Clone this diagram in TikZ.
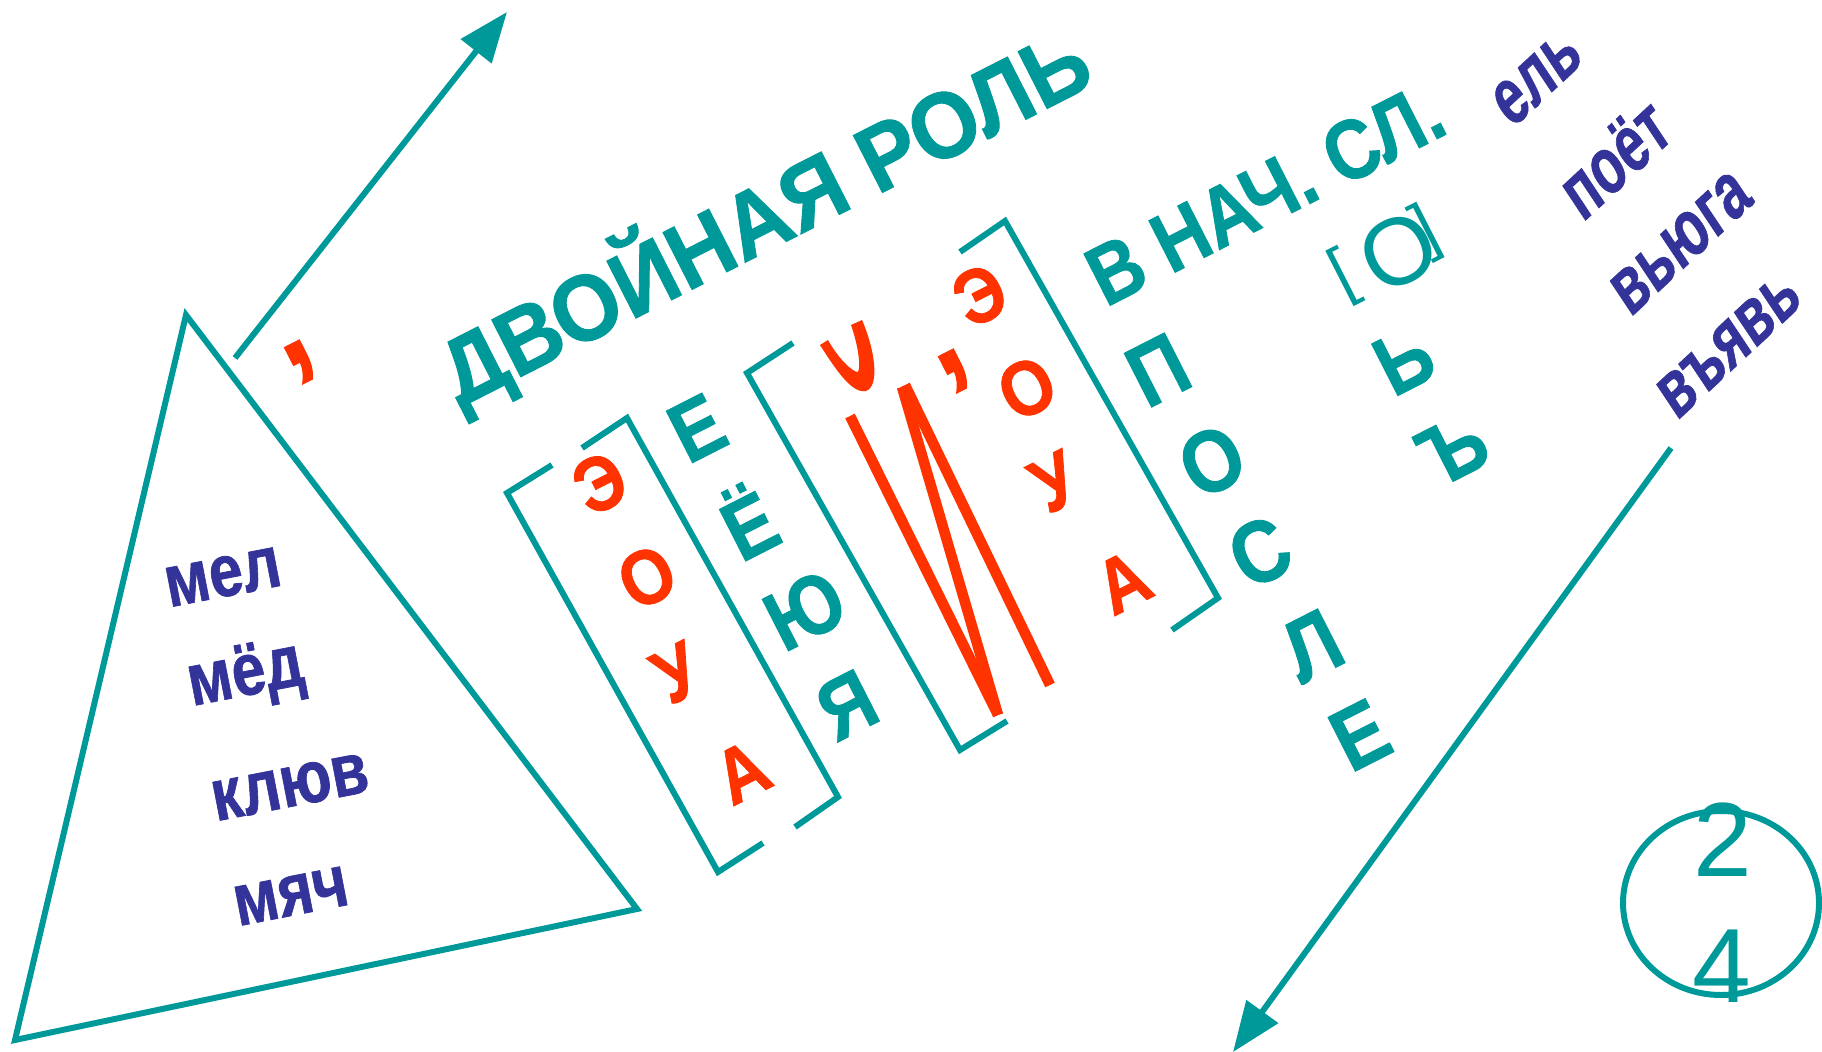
\documentclass[tikz,border=0pt]{standalone}
\usepackage{fontspec}
\setmainfont{Liberation Sans}[BoldFeatures={FakeBold=1}]
\usetikzlibrary{arrows.meta}
\definecolor{slideteal}{RGB}{0,153,153}
\definecolor{slidered}{RGB}{255,51,0}
\definecolor{slideblue}{RGB}{51,51,153}
\tikzset{
  line/.style={draw=slideteal, line width=1.7pt},
  arrowline/.style={line, -{Triangle[length=0.5cm,width=0.38cm]}},
  redstroke/.style={draw=slidered, line width=3pt},
  titletext/.style={text=slideteal, inner sep=0pt, rotate=27, xscale=0.94,
    font=\fontsize{26.5}{30}\selectfont\bfseries},
  subtitletext/.style={titletext, xscale=0.92, font=\fontsize{24}{27}\selectfont\bfseries},
  tealletter/.style={text=slideteal, inner sep=0pt, rotate=27, xscale=0.88,
    font=\fontsize{24}{28}\selectfont\bfseries},
  redletter/.style={tealletter, text=slidered, font=\fontsize{22}{26}\selectfont\bfseries},
  redmark/.style={redletter, font=\fontsize{38}{40}\selectfont\bfseries},
  trword/.style={text=slideblue, inner sep=0pt, rotate=11, xscale=0.82,
    font=\fontsize{21}{24}\selectfont\bfseries},
  sideword/.style={trword, rotate=27, xscale=0.8, font=\fontsize{23}{26}\selectfont\bfseries},
  soundmark/.style={text=slideteal, inner sep=0pt, rotate=27, font=\fontsize{19}{22}\selectfont},
  digit/.style={text=slideteal, inner sep=0pt, font=\fontsize{30}{32}\selectfont}
}
\begin{document}
\begin{tikzpicture}[x=0.01cm, y=-0.01cm]
\useasboundingbox (0,0) rectangle (1822,1052);

% стрелки
\coordinate (up-tail) at (235,358);
\coordinate (up-tip) at (507,12);
\draw[arrowline] (up-tail) -- (up-tip);
\coordinate (down-tail) at (1671,448);
\coordinate (down-tip) at (1233,1052);
\draw[arrowline] (down-tail) -- (down-tip);

% треугольник со словами
\draw[line] (186,315) -- (637,909) -- (15,1040) -- cycle;
\foreach \w/\px/\py [count=\i] in {мел/223/577, мёд/246/677, клюв/290/787, мяч/291/896}
  \node[trword] (tri-\i) at (\px,\py) {\w};
\node[redmark] (comma-left) at (301,362) {,};

% заголовок
\node[titletext] (title) at (764,216) {ДВОЙНАЯ РОЛЬ};
\node[subtitletext] (subtitle) at (1265,194) {В НАЧ. СЛ.};

% скобки
\draw[line] (552,465) -- (507,493) -- (718,872) -- (763,843);
\draw[line] (582,448) -- (627,418) -- (838,797) -- (795,827);
\draw[line] (793,343) -- (747,373) -- (960,750) -- (1007,721);
\draw[line] (960,252) -- (1005,221) -- (1218,598) -- (1172,630);

% гласные
\foreach \ltr/\px/\py [count=\i] in {Э/600/483, О/647/577, У/677/673, А/742/772}
  \node[redletter] (vowa-\i) at (\px,\py) {\ltr};
\foreach \ltr/\px/\py [count=\i] in {Е/697/428, Ё/747/520, Ю/805/610, Я/847/705}
  \node[tealletter] (vowb-\i) at (\px,\py) {\ltr};
\foreach \ltr/\px/\py [count=\i] in {Э/980/295, О/1027/388, У/1055/482, А/1123/582}
  \node[redletter] (vowc-\i) at (\px,\py) {\ltr};
\node[redmark] (comma-mid) at (955,371) {,};

% большая Й
\draw[redstroke] (850,416) -- (998,715);
\draw[redstroke] (902,387) -- (998,715);
\draw[redstroke] (905,385) -- (1050,685);
\fill[slidered] (820,345) .. controls (836,370) and (852,394) .. (866,391)
  .. controls (880,386) and (875,350) .. (862,320) -- (851,325)
  .. controls (858,345) and (861,366) .. (858,372)
  .. controls (852,372) and (838,358) .. (828,340) -- cycle;

% после
\foreach \ltr/\px/\py [count=\i] in {П/1158/370, О/1212/461, С/1260/552, Л/1312/646, Е/1360/735}
  \node[tealletter, font=\fontsize{25}{28}\selectfont\bfseries] (after-\i) at (\px,\py) {\ltr};
\node[soundmark] (snd-l) at (1344,277) {[};
\node[soundmark, font=\fontsize{27}{30}\selectfont] (snd-o) at (1399,252) {О};
\node[soundmark] (snd-r) at (1427,232) {]};
\node[tealletter] (soft) at (1404,360) {Ь};
\node[tealletter] (hard) at (1453,449) {Ъ};

% примеры
\foreach \w/\px/\py [count=\i] in {ель/1537/78, поёт/1614/158, вьюга/1681/243, въявь/1729/345}
  \node[sideword] (ex-\i) at (\px,\py) {\w};

% номер
\draw[line] (1721,903) ellipse [x radius=98, y radius=92];
\node[digit] (num-top) at (1723,840) {2};
\node[digit] (num-bot) at (1722,966) {4};
\end{tikzpicture}
\end{document}
